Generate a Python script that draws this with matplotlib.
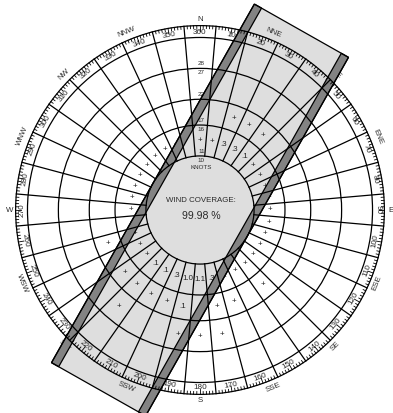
import numpy as np
import matplotlib
matplotlib.use("Agg")
import matplotlib.pyplot as plt
from matplotlib.patches import Circle, Polygon

plt.rcParams['font.family'] = ['Liberation Sans', 'DejaVu Sans']

# Wind direction sectors, degrees (10 ... 360)
directions = list(range(10, 370, 10))

# Speed ring boundaries in knots (center circle = calm/light winds)
ring_edges = [10.5, 16.5, 21.5, 27.5, 33.5]

TR = 0.0      # trace: recorded but under 0.05 %
NA = np.nan   # no observations

# Percent of observations per direction for each speed band
pct_11_16 = [TR, .3, .3, .1, TR, TR, TR, TR, TR, TR, TR, TR,
             TR, TR, TR, .1, .3, 1.1, 1.0, .3, .1, .1, TR, TR,
             TR, TR, TR, TR, TR, TR, TR, TR, TR, TR, NA, TR]
pct_17_21 = [NA, TR, TR, TR, NA, TR, NA, NA, NA, NA, NA, NA,
             NA, TR, NA, TR, TR, .1, .1, TR, TR, TR, TR, NA,
             TR, NA, NA, NA, NA, NA, NA, NA, NA, NA, NA, NA]
pct_22_27 = [NA, NA, NA, NA, NA, NA, NA, NA, NA, NA, NA, NA,
             NA, NA, NA, NA, TR, TR, TR, NA, NA, TR, NA, NA,
             NA, NA, NA, NA, NA, NA, NA, NA, NA, NA, NA, NA]
speed_bands = [pct_11_16, pct_17_21, pct_22_27]

compass_points = ["N", "NNE", "NE", "ENE", "E", "ESE", "SE", "SSE",
                  "S", "SSW", "SW", "WSW", "W", "WNW", "NW", "NNW"]

runway_heading = 29.5      # degrees true
crosswind_limit = 10.5     # knots (template half-width)
template_half_length = 40  # knots
coverage_text = "99.98 %"

# ---------------------------------------------------------------------
W_PX, H_PX = 393, 413
CX, CY = 200, 210          # rose center in pixels from top-left
SCALE = 5.15               # pixels per knot
R_OUT = 35.8               # outer graduated circle

fig = plt.figure(figsize=(W_PX / 100, H_PX / 100), dpi=100)
ax = fig.add_axes([0, 0, 1, 1])
ax.set_xlim(-CX / SCALE, (W_PX - CX) / SCALE)
ax.set_ylim(-(H_PX - CY) / SCALE, CY / SCALE)
ax.set_aspect('equal')
ax.axis('off')

LIGHT = '#dedede'
DARK = '#838383'
TXT = '#2a2a2a'


def pol(r, b):
    t = np.radians(b)
    return r * np.sin(t), r * np.cos(t)


def tang_rot(b):
    b = b % 360
    if 90 < b < 270:
        return 180 - b
    return -b


# center disk
ax.add_patch(Circle((0, 0), ring_edges[0], facecolor=LIGHT,
                    edgecolor='none', zorder=1))

# crosswind template
h = np.radians(runway_heading)
u = np.array([np.sin(h), np.cos(h)])
n = np.array([np.cos(h), -np.sin(h)])
L = template_half_length
Wd = crosswind_limit
strip = 1.6


def rect(a, b):
    return [L * u + a * n, L * u + b * n, -L * u + b * n, -L * u + a * n]


ax.add_patch(Polygon(rect(-Wd, Wd), closed=True, facecolor=LIGHT,
                     edgecolor='none', zorder=1))
for a, b in [(-Wd, -Wd + strip), (Wd - strip, Wd)]:
    ax.add_patch(Polygon(rect(a, b), closed=True, facecolor=DARK,
                         edgecolor='black', lw=0.9, zorder=4))
ax.add_patch(Polygon(rect(-Wd, Wd), closed=True, facecolor='none',
                     edgecolor='black', lw=0.9, zorder=6))

# speed rings and outer circles
for r in ring_edges + [R_OUT]:
    ax.add_patch(Circle((0, 0), r, facecolor='none', edgecolor='black',
                        lw=0.9, zorder=5))

# sector boundaries
for d in directions:
    b = d - 5
    x0, y0 = pol(ring_edges[0], b)
    x1, y1 = pol(R_OUT, b)
    ax.plot([x0, x1], [y0, y1], color='black', lw=0.9, zorder=5)

# degree graduations
for deg in range(360):
    if deg % 10 == 5:
        continue
    ln = 1.1 if deg % 10 == 0 else 0.55
    x0, y0 = pol(R_OUT, deg)
    x1, y1 = pol(R_OUT - ln, deg)
    ax.plot([x0, x1], [y0, y1], color='black', lw=0.6, zorder=5)

# degree labels
for d in directions:
    x, y = pol(34.5, d)
    ax.text(x, y, str(d), fontsize=5.9, color=TXT, ha='center', va='center',
            rotation=tang_rot(d), rotation_mode='anchor', zorder=3)

# compass points
for i, name in enumerate(compass_points):
    b = i * 22.5
    r = 37.3 if i % 4 else 37.0
    x, y = pol(r, b)
    rot = 0 if i % 4 == 0 else tang_rot(b)
    ax.text(x, y, name, fontsize=5.7, color=TXT, ha='center', va='center',
            rotation=rot, rotation_mode='anchor', zorder=3)

# speed labels along the north sector
for e in ring_edges[:-1]:
    lo, hi = int(np.floor(e)), int(np.ceil(e))
    ax.text(0.25, e - 0.85, str(lo), fontsize=4.5, color=TXT,
            ha='center', va='center', zorder=3)
    ax.text(0.25, e + 0.85, str(hi), fontsize=4.5, color=TXT,
            ha='center', va='center', zorder=3)
ax.text(0.25, ring_edges[0] - 2.2, "KNOTS", fontsize=4.5, color=TXT,
        ha='center', va='center', zorder=3)

# percentages in each cell
for k, band in enumerate(speed_bands):
    rmid = (ring_edges[k] + ring_edges[k + 1]) / 2
    for d, v in zip(directions, band):
        if np.isnan(v):
            continue
        s = "+" if v < 0.05 else f"{v:.1f}".lstrip("0")
        x, y = pol(rmid, d)
        ax.text(x, y, s, fontsize=5.7, color='#222222', ha='center',
                va='center', zorder=3)

# coverage summary
ax.text(0.2, 1.9, "WIND COVERAGE:", fontsize=5.7, color=TXT,
        ha='center', va='center', zorder=3)
ax.text(0.2, -1.2, coverage_text, fontsize=7.6, color=TXT,
        ha='center', va='center', zorder=3)

fig.savefig("out.png", dpi=100)
